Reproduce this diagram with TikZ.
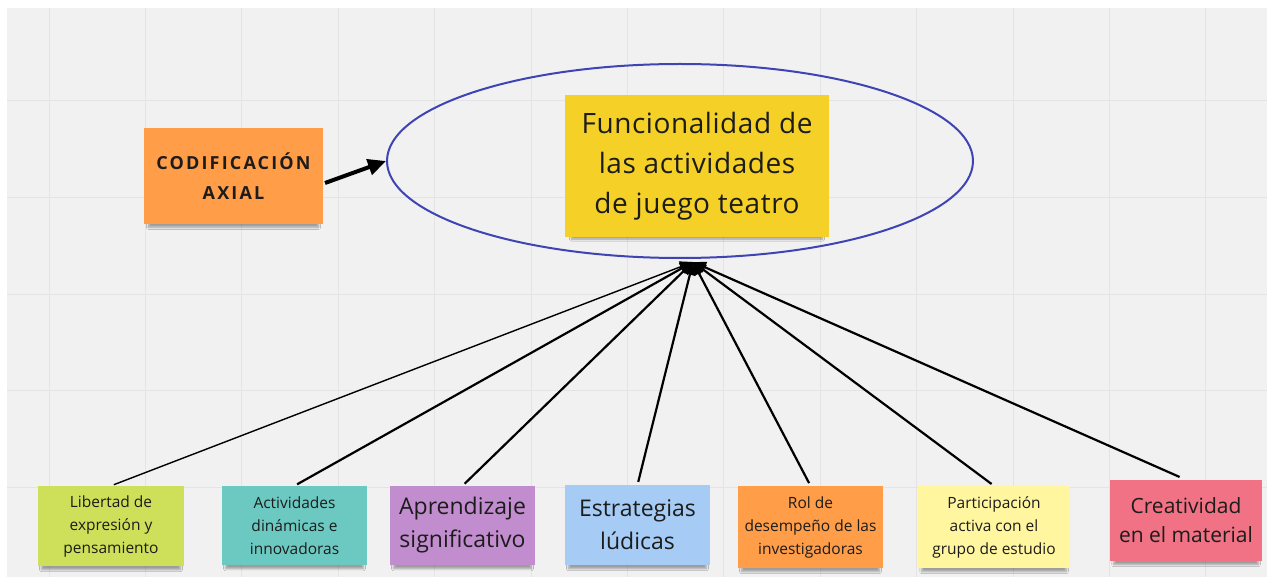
\documentclass[tikz,border=0pt]{standalone}
\usepackage{fontspec}
\setmainfont{Open Sans}
\newfontfamily\trackedbold[LetterSpace=12]{Open Sans Bold}
\newfontfamily\slighttrack[LetterSpace=2]{Open Sans}
\usetikzlibrary{arrows.meta,shadows.blur,shapes.geometric}
\definecolor{panelbg}{HTML}{F1F1F1}
\definecolor{gridc}{HTML}{E4E4E4}
\definecolor{orangenote}{HTML}{FF9D48}
\definecolor{yellownote}{HTML}{F5D128}
\definecolor{limenote}{HTML}{CEE05A}
\definecolor{tealnote}{HTML}{6CC9C2}
\definecolor{purplenote}{HTML}{C28DCE}
\definecolor{bluenote}{HTML}{A6CCF5}
\definecolor{paleyellow}{HTML}{FFF69F}
\definecolor{pinknote}{HTML}{F07284}
\definecolor{ellblue}{HTML}{3F44B5}
\definecolor{inkc}{HTML}{1C1C1C}
\tikzset{
  gridline/.style={draw=gridc, line width=1pt},
  note/.style={fill=#1, draw=none, inner sep=0pt, align=center, text=inkc,
    blur shadow={shadow xshift=0pt, shadow yshift=-6pt, shadow opacity=35, shadow blur steps=6, shadow scale=0.95}},
  smalltext/.style={font=\fontsize{15.5}{23}\selectfont},
  midtext/.style={font=\fontsize{23}{33}\selectfont},
  link/.style={draw=black, line width=2.2pt, shorten <=3pt, -{Triangle[length=13pt,width=11pt]}},
}
\begin{document}
\begin{tikzpicture}[x=1pt,y=-1pt]
\useasboundingbox (0,0) rectangle (1267,577);
\fill[white] (0,0) rectangle (1267,577);
\fill[panelbg] (7,8) rectangle (1267,577);
\foreach \i in {0,...,12} \draw[gridline] ({49+96.4*\i},8) -- ({49+96.4*\i},577);
\foreach \j in {0,...,4} \draw[gridline] (7,{101+96.6*\j}) -- (1267,{101+96.6*\j});

% central ellipse and note
\node[draw=ellblue, line width=2pt, ellipse, minimum width=586, minimum height=194, inner sep=0pt] (ell) at (680,161) {};
\node[note=yellownote, minimum width=264, minimum height=142, font=\slighttrack\fontsize{28}{40}\selectfont] (center) at (697,166) {Funcionalidad de\\las actividades\\de juego teatro};

% codificacion
\node[note=orangenote, minimum width=179, minimum height=96, font=\trackedbold\fontsize{18}{30}\selectfont] (cod) at (233.5,176) {CODIFICACIÓN\\AXIAL};
\coordinate (codout) at (325,183);
\draw[line width=4pt, -{Triangle[length=18pt,width=16pt]}] (codout) -- (ell.west);

% bottom notes
\node[note=limenote, minimum width=146, minimum height=80, smalltext] (b1) at (111,526) {Libertad de\\expresión y\\pensamiento};
\node[note=tealnote, minimum width=145, minimum height=79, smalltext] (b2) at (294.5,525.5) {Actividades\\dinámicas e\\innovadoras};
\node[note=purplenote, minimum width=145, minimum height=79, midtext] (b3) at (462.5,525.5) {Aprendizaje\\significativo};
\node[note=bluenote, minimum width=145, minimum height=80, midtext] (b4) at (637.5,525) {Estrategias\\lúdicas};
\node[note=orangenote, minimum width=145, minimum height=82, smalltext] (b5) at (810.5,527) {Rol de\\desempeño de las\\investigadoras};
\node[note=paleyellow, minimum width=152, minimum height=82, smalltext] (b6) at (994,527) {Participación\\activa con el\\grupo de estudio};
\node[note=pinknote, minimum width=152, minimum height=81, font=\fontsize{21}{29}\selectfont] (b7) at (1186,520.5) {Creatividad\\en el material};

\coordinate (tip) at (693,262);
\draw[link, line width=1.4pt] (b1.north) -- (tip);
\draw[link] (b2.north) -- (tip);
\draw[link] (b3.north) -- (tip);
\draw[link] (b4.north) -- (tip);
\draw[link] (b5.north) -- (tip);
\draw[link] (b6.north) -- (tip);
\draw[link, shorten <=7pt] (b7.north) -- (tip);
\end{tikzpicture}
\end{document}
